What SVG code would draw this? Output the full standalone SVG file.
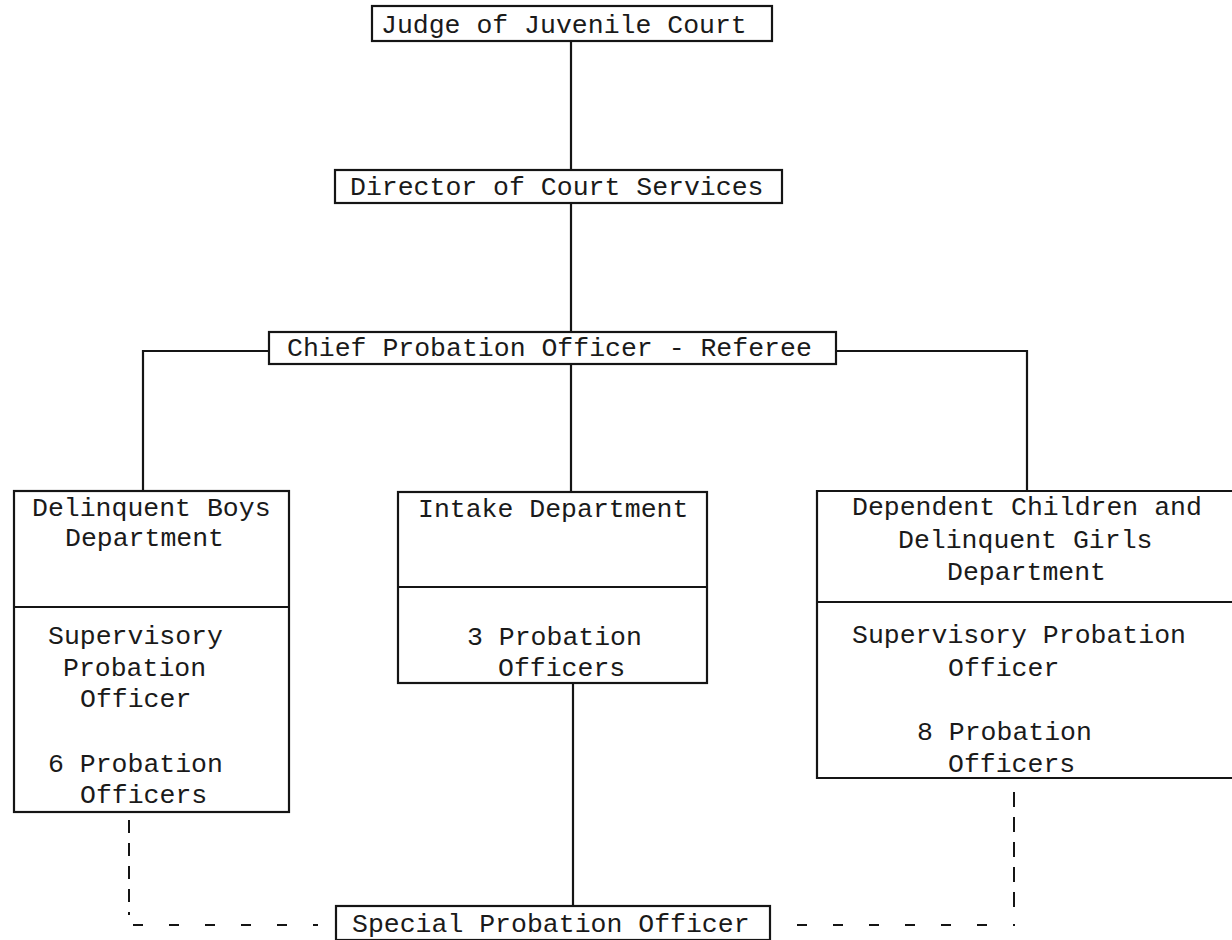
<svg xmlns="http://www.w3.org/2000/svg" width="1232" height="940" viewBox="0 0 1232 940">
  <style>
    .box { fill: none; stroke: #151515; stroke-width: 2.2; }
    .line { fill: none; stroke: #151515; stroke-width: 2.2; }
    .dash { fill: none; stroke: #151515; stroke-width: 2; }
    text { font-family: "Liberation Mono", "DejaVu Sans Mono", monospace; font-size: 26.5px; fill: #1a1a1a; }
  </style>
  <rect width="1232" height="940" fill="#ffffff"/>

  <!-- connectors -->
  <g id="connectors">
    <path class="line" d="M571,41 V170"/>
    <path class="line" d="M571,203 V332"/>
    <path class="line" d="M571,364 V492"/>
    <path class="line" d="M269,351 H143 V491"/>
    <path class="line" d="M836,351 H1027 V491"/>
    <path class="line" d="M573,683 V906"/>
    <!-- dotted staff links to the special probation officer -->
    <path class="dash" d="M129,820 V915" stroke-dasharray="13 10"/>
    <path class="dash" d="M133,925 H318" stroke-dasharray="10 26"/>
    <path class="dash" d="M1014,792 V917" stroke-dasharray="15 10"/>
    <path class="dash" d="M797,925 H1015" stroke-dasharray="10 26"/>
  </g>

  <g id="judge">
    <rect class="box" x="372" y="6" width="400" height="35"/>
    <text x="381" y="33">Judge of Juvenile Court</text>
  </g>

  <g id="director">
    <rect class="box" x="335" y="170" width="447" height="33"/>
    <text x="350" y="195">Director of Court Services</text>
  </g>

  <g id="chief">
    <rect class="box" x="269" y="332" width="567" height="32"/>
    <text x="287" y="356">Chief Probation Officer - Referee</text>
  </g>

  <g id="boys-dept">
    <rect class="box" x="14" y="491" width="275" height="321"/>
    <path class="line" d="M14,607 H289"/>
    <text x="32" y="516">Delinquent Boys</text>
    <text x="65" y="546">Department</text>
    <text x="48" y="644">Supervisory</text>
    <text x="63" y="676">Probation</text>
    <text x="80" y="707">Officer</text>
    <text x="48" y="772">6 Probation</text>
    <text x="80" y="803">Officers</text>
  </g>

  <g id="intake-dept">
    <rect class="box" x="398" y="492" width="309" height="191"/>
    <path class="line" d="M398,587 H707"/>
    <text x="418" y="517">Intake Department</text>
    <text x="467" y="645">3 Probation</text>
    <text x="498" y="676">Officers</text>
  </g>

  <g id="dependent-dept">
    <path class="box" d="M1240,491 H817 V778 H1240"/>
    <path class="line" d="M817,602 H1232"/>
    <text x="852" y="515">Dependent Children and</text>
    <text x="898" y="548">Delinquent Girls</text>
    <text x="947" y="580">Department</text>
    <text x="852" y="643">Supervisory Probation</text>
    <text x="948" y="676">Officer</text>
    <text x="917" y="740">8 Probation</text>
    <text x="948" y="772">Officers</text>
  </g>

  <g id="special-officer">
    <rect class="box" x="336" y="906" width="434" height="34"/>
    <text x="352" y="932">Special Probation Officer</text>
  </g>
</svg>
